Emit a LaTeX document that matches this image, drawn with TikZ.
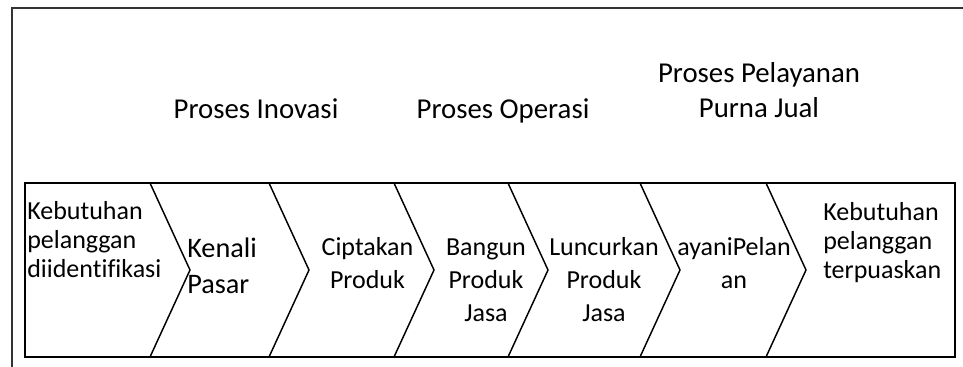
\documentclass[tikz,border=0pt]{standalone}
\usepackage{fontspec}
\setmainfont[Ligatures=NoCommon]{Carlito}
\usetikzlibrary{arrows,positioning}

\begin{document}
\begin{tikzpicture}[x=0.75pt,y=-0.75pt,
  judul/.style={font=\fontsize{21.6}{26.3}\selectfont,align=center,anchor=base,inner sep=0pt},
  isi/.style={font=\fontsize{19.5}{24.5}\selectfont,align=center,anchor=base,inner sep=0pt},
  ujung/.style={font=\fontsize{19.5}{21.4}\selectfont,align=left,anchor=base west,inner sep=0pt},
  garis/.style={line width=1.1pt}]
  \useasboundingbox (0,0) rectangle (963,367);
  % bingkai luar
  \draw[line width=1.5pt,black!80] (12,367) -- (12,8) -- (963,8);
  % rantai proses
  \draw[garis] (25,183) rectangle (955,357);
  \foreach \x in {150,269,394,508,640,766}
    \draw[garis] (\x,183) -- ++(40,87) -- ++(-40,87);
  % judul (anchor base = baris terakhir)
  \node[judul] (P) at (256,119) {Proses Inovasi};
  \node[judul] (Q) at (503,119) {Proses Operasi};
  \node[judul] (R) at (759,118) {Proses Pelayanan\\Purna Jual};
  % isi
  \node[ujung] (A) at (27,277) {Kebutuhan\\pelanggan\\diidentifikasi};
  \node[ujung,font=\fontsize{21.2}{26.7}\selectfont] (B) at (187,293.5) {Kenali\\Pasar};
  \node[isi] (C) at (367.5,288.5) {Ciptakan\\Produk};
  \node[isi] (D) at (486,321) {Bangun\\Produk\\Jasa};
  \node[isi] (E) at (604,321) {Luncurkan\\Produk\\Jasa};
  \node[isi] (F) at (734,288.5) {ayaniPelan\\an};
  \node[ujung] (G) at (823,278) {Kebutuhan\\pelanggan\\terpuaskan};
\end{tikzpicture}
\end{document}
